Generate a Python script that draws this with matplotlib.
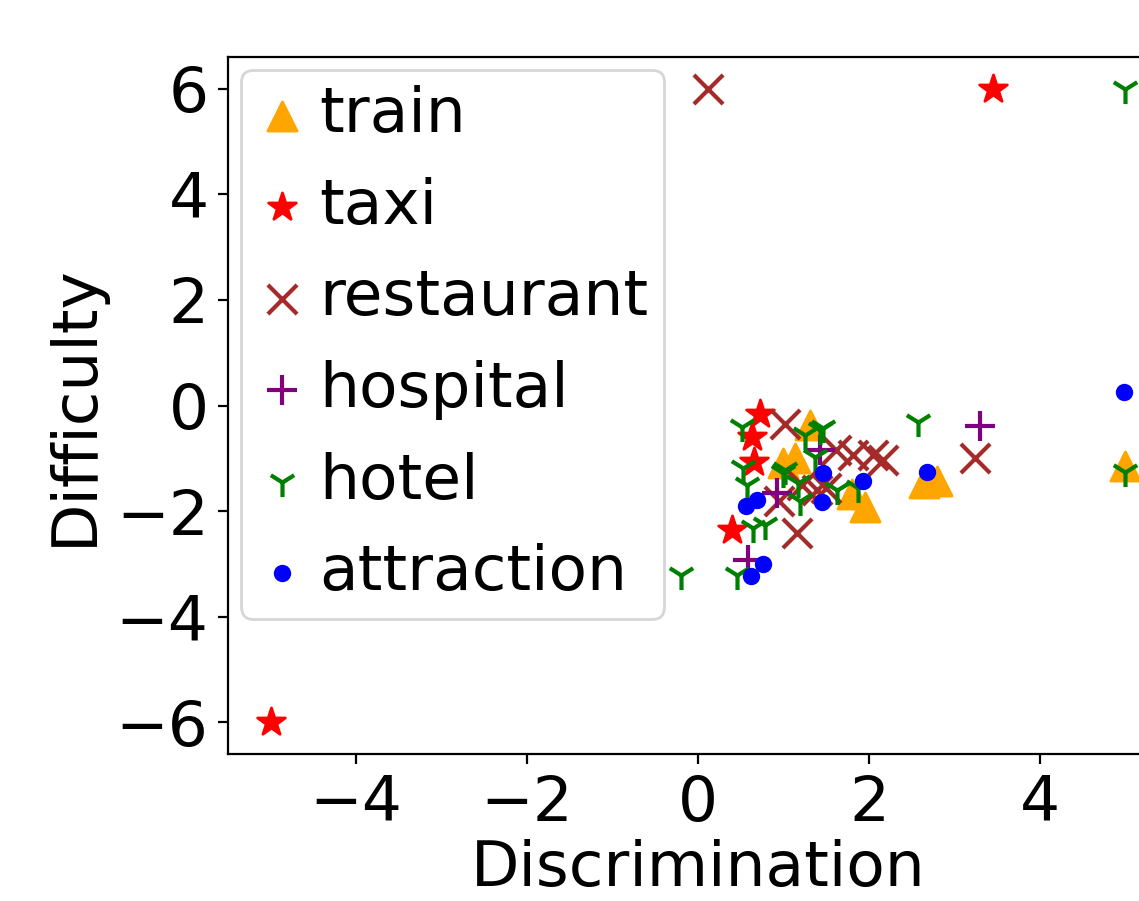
import matplotlib
matplotlib.use("Agg")
import matplotlib.pyplot as plt

# item parameters per domain (discrimination, difficulty)
train_disc = [1.31, 0.99, 1.13, 1.80, 1.95, 2.65, 2.80, 5.00]
train_diff = [-0.37, -1.09, -1.00, -1.68, -1.92, -1.47, -1.42, -1.15]

taxi_disc = [-5.00, 3.45, 0.72, 0.63, 0.65, 0.40]
taxi_diff = [-6.00, 6.00, -0.15, -0.60, -1.06, -2.36]

restaurant_disc = [0.12, 1.02, 1.62, 1.81, 2.05, 2.16, 3.24, 1.39, 1.50, 1.22, 0.95, 1.16]
restaurant_diff = [6.00, -0.34, -0.85, -0.94, -0.94, -1.03, -1.00, -1.60, -1.57, -1.50, -1.80, -2.42]

hospital_disc = [1.43, 0.92, 0.58, 3.30]
hospital_diff = [-0.85, -1.66, -2.92, -0.38]

hotel_disc = [5.00, -0.20, 0.46, 0.51, 0.53, 0.57, 0.64, 0.78, 0.99, 1.02,
              1.17, 1.19, 1.25, 1.37, 1.43, 1.46, 1.63, 1.87, 2.57, 5.00]
hotel_diff = [6.00, -3.20, -3.20, -0.40, -1.19, -1.50, -2.32, -2.26, -1.28, -1.22,
              -1.47, -1.81, -0.56, -0.97, -0.47, -0.43, -1.60, -1.57, -0.32, -1.25]

attraction_disc = [0.69, 0.56, 0.76, 0.62, 1.46, 1.45, 1.93, 2.68, 4.98]
attraction_diff = [-1.79, -1.91, -3.00, -3.23, -1.28, -1.83, -1.43, -1.25, 0.25]

series = [
    ("train", train_disc, train_diff, "^", "orange"),
    ("taxi", taxi_disc, taxi_diff, "*", "red"),
    ("restaurant", restaurant_disc, restaurant_diff, "x", "brown"),
    ("hospital", hospital_disc, hospital_diff, "+", "purple"),
    ("hotel", hotel_disc, hotel_diff, "1", "green"),
    ("attraction", attraction_disc, attraction_diff, ".", "blue"),
]

FS = 22.7

fig = plt.figure(figsize=(1139 / 200, 901 / 200), dpi=200)
ax = fig.add_axes([0.2002, 0.163, 0.8253, 0.7737])

for name, xs, ys, mk, col in series:
    ax.scatter(xs, ys, marker=mk, color=col, s=110, label=name)

ax.set_xlabel("Discrimination", fontsize=FS, labelpad=2)
ax.set_ylabel("Difficulty", fontsize=FS)
ax.tick_params(labelsize=FS)
ax.set_xticks([-4, -2, 0, 2, 4])
ax.set_yticks([-6, -4, -2, 0, 2, 4, 6])
ax.legend(loc="upper left", fontsize=FS, borderaxespad=0.2, borderpad=0.25,
          handlelength=0.8, handletextpad=0.2, labelspacing=0.5)

fig.savefig("out.png", dpi=200)
